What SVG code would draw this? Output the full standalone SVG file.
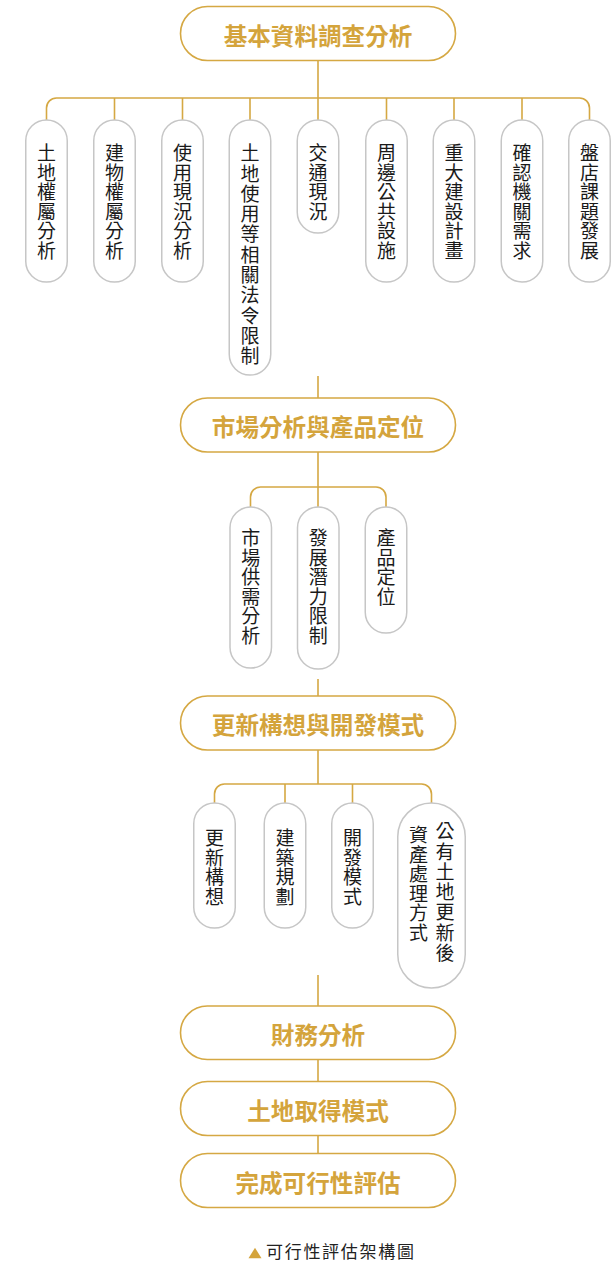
<svg xmlns="http://www.w3.org/2000/svg" width="615" height="1263" viewBox="0 0 615 1263">
<style>
.main{fill:#fff;stroke:#D5A843;stroke-width:1.6}
.mt{font-family:"Noto Sans CJK TC","Noto Sans CJK SC",sans-serif;font-size:23.6px;font-weight:700;fill:#D4A43C;text-anchor:middle}
.sub{fill:#fff;stroke:#C6C6C6;stroke-width:1.5}
.st{font-family:"Noto Sans CJK TC","Noto Sans CJK SC",sans-serif;font-size:19px;fill:#1a1a1a;writing-mode:vertical-rl;text-orientation:upright;letter-spacing:0.5px}
.lg{letter-spacing:1.3px}
.ln{fill:none;stroke:#D5A843;stroke-width:1.6}
.cap{font-family:"Noto Sans CJK TC","Noto Sans CJK SC",sans-serif;font-size:17px;fill:#222;letter-spacing:1.7px}
</style>
<rect width="615" height="1263" fill="#fff"/>
<g id="connectors">
<path class="ln" d="M318 60.5V120"/>
<path class="ln" d="M46.5 120V108A10 10 0 0 1 56.5 98H579.5A10 10 0 0 1 589.5 108V120"/>
<path class="ln" d="M114.5 98V120M182.5 98V120M250 98V120M386.5 98V120M454 98V120M522 98V120"/>
<path class="ln" d="M318 376V398"/>
<path class="ln" d="M318 452V507"/>
<path class="ln" d="M250.5 507V497A10 10 0 0 1 260.5 487H376A10 10 0 0 1 386 497V507"/>
<path class="ln" d="M318 679V696"/>
<path class="ln" d="M318 750V784"/>
<path class="ln" d="M214.5 803V794A10 10 0 0 1 224.5 784H421.5A10 10 0 0 1 431.5 794V803"/>
<path class="ln" d="M285 784V803M352.5 784V803"/>
<path class="ln" d="M318 975V1006"/>
<path class="ln" d="M318 1059.5V1081.5"/>
<path class="ln" d="M318 1135.5V1153.5"/>
</g>
<g id="n-basic"><rect class="main" x="180.5" y="6.5" width="275" height="54" rx="27"/><text class="mt" x="318" y="45.3">基本資料調查分析</text></g>
<g id="n-land-right"><rect class="sub" x="25.75" y="120" width="41.5" height="162" rx="20.75"/><text class="st" x="46.5" y="143.5">土地權屬分析</text></g>
<g id="n-bldg-right"><rect class="sub" x="93.75" y="120" width="41.5" height="162" rx="20.75"/><text class="st" x="114.5" y="143.5">建物權屬分析</text></g>
<g id="n-use"><rect class="sub" x="161.75" y="120" width="41.5" height="162" rx="20.75"/><text class="st" x="182.5" y="143.5">使用現況分析</text></g>
<g id="n-law"><rect class="sub" x="229.25" y="120" width="41.5" height="255" rx="20.75"/><text class="st lg" x="250" y="143.5">土地使用等相關法令限制</text></g>
<g id="n-traffic"><rect class="sub" x="297.25" y="120" width="41.5" height="113" rx="20.75"/><text class="st" x="318" y="143.5">交通現況</text></g>
<g id="n-public"><rect class="sub" x="365.75" y="120" width="41.5" height="162" rx="20.75"/><text class="st" x="386.5" y="143.5">周邊公共設施</text></g>
<g id="n-major"><rect class="sub" x="433.25" y="120" width="41.5" height="162" rx="20.75"/><text class="st" x="454" y="143.5">重大建設計畫</text></g>
<g id="n-agency"><rect class="sub" x="501.25" y="120" width="41.5" height="162" rx="20.75"/><text class="st" x="522" y="143.5">確認機關需求</text></g>
<g id="n-issues"><rect class="sub" x="568.75" y="120" width="41.5" height="162" rx="20.75"/><text class="st" x="589.5" y="143.5">盤店課題發展</text></g>
<g id="n-market"><rect class="main" x="180.5" y="398" width="275" height="54" rx="27"/><text class="mt" x="318" y="436.3">市場分析與產品定位</text></g>
<g id="n-supply"><rect class="sub" x="230" y="507" width="41.5" height="161" rx="20.75"/><text class="st" x="250.75" y="528.5">市場供需分析</text></g>
<g id="n-potential"><rect class="sub" x="297.5" y="507" width="41.5" height="162" rx="20.75"/><text class="st" x="318.25" y="528.5">發展潛力限制</text></g>
<g id="n-position"><rect class="sub" x="365.25" y="507" width="41.5" height="126" rx="20.75"/><text class="st" x="386" y="528.5">產品定位</text></g>
<g id="n-concept"><rect class="main" x="180.5" y="696" width="275" height="54" rx="27"/><text class="mt" x="318" y="734.3">更新構想與開發模式</text></g>
<g id="n-idea"><rect class="sub" x="193.75" y="803" width="41.5" height="125" rx="20.75"/><text class="st" x="214.5" y="828.5">更新構想</text></g>
<g id="n-plan"><rect class="sub" x="264.25" y="803" width="41.5" height="125" rx="20.75"/><text class="st" x="285" y="828.5">建築規劃</text></g>
<g id="n-devmode"><rect class="sub" x="331.75" y="803" width="41.5" height="125" rx="20.75"/><text class="st" x="352.5" y="828.5">開發模式</text></g>
<g id="n-asset"><rect class="sub" x="397.75" y="803" width="67.5" height="185" rx="33.75"/><text class="st lg" x="445" y="821.5">公有土地更新後</text><text class="st" x="418.5" y="825.5">資產處理方式</text></g>
<g id="n-finance"><rect class="main" x="180.5" y="1006" width="275" height="53.5" rx="26.75"/><text class="mt" x="318" y="1044.3">財務分析</text></g>
<g id="n-acquire"><rect class="main" x="180.5" y="1081.5" width="275" height="54" rx="27"/><text class="mt" x="318" y="1119.8">土地取得模式</text></g>
<g id="n-done"><rect class="main" x="180.5" y="1153.5" width="275" height="54" rx="27"/><text class="mt" x="318" y="1191.8">完成可行性評估</text></g>
<g id="caption"><polygon points="248.5,1258.3 255,1247.8 261.5,1258.3" fill="#D4A43C"/><text class="cap" x="266" y="1258">可行性評估架構圖</text></g>
</svg>
